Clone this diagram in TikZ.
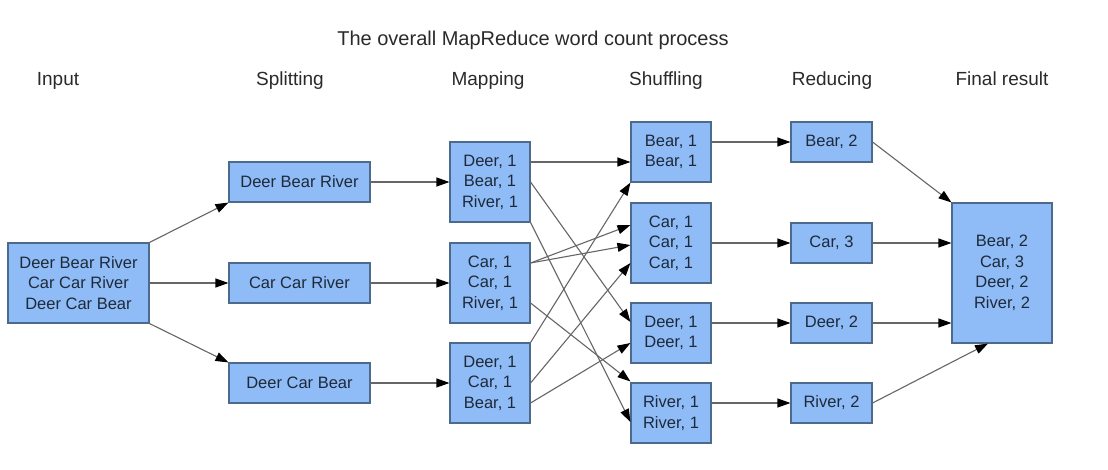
\documentclass[tikz,border=0pt]{standalone}
\usepackage{fontspec}
\setmainfont{Liberation Sans}
\usetikzlibrary{arrows.meta,calc}
\definecolor{boxfill}{HTML}{8FBCF7}
\definecolor{boxline}{HTML}{4C6A8C}
\definecolor{boxtext}{HTML}{1E2A3A}
\definecolor{linegray}{HTML}{666666}
\definecolor{headtext}{HTML}{2A2A2A}
\begin{document}
\begin{tikzpicture}[x=1pt,y=-1pt,
  box/.style={draw=boxline,fill=boxfill,line width=1.1pt,inner sep=0pt,
    text=boxtext,align=center,font=\fontsize{16.5}{20.5}\selectfont},
  conn/.style={draw=linegray,line width=1.1pt,
    -{Triangle[length=13pt,width=9pt,color=black]}},
  head/.style={anchor=base,text=headtext,font=\fontsize{19}{22}\selectfont},
  titlestyle/.style={anchor=base,text=headtext,font=\fontsize{20}{24}\selectfont}]
\useasboundingbox[fill=white] (0,0) rectangle (1108,469);

% titles
\node[titlestyle] (title) at (533,45) {The overall MapReduce word count process};
\node[head] (hin) at (58,85) {Input};
\node[head] (hsp) at (290,85) {Splitting};
\node[head] (hmap) at (488,85) {Mapping};
\node[head] (hsh) at (666,85) {Shuffling};
\node[head] (hred) at (832,85) {Reducing};
\node[head] (hfin) at (1002,85) {Final result};

% input
\node[box,minimum width=141pt,minimum height=80pt] (in) at (78.5,283)
  {Deer Bear River\\Car Car River\\Deer Car Bear};

% splitting
\node[box,minimum width=141pt,minimum height=40pt] (sp1) at (299.5,182) {Deer Bear River};
\node[box,minimum width=141pt,minimum height=40pt] (sp2) at (299.5,283) {Car Car River};
\node[box,minimum width=141pt,minimum height=40pt] (sp3) at (299.5,383) {Deer Car Bear};

% mapping
\node[box,minimum width=80pt,minimum height=80pt] (map1) at (490,182) {Deer, 1\\Bear, 1\\River, 1};
\node[box,minimum width=80pt,minimum height=80pt] (map2) at (490,283) {Car, 1\\Car, 1\\River, 1};
\node[box,minimum width=80pt,minimum height=80pt] (map3) at (490,383) {Deer, 1\\Car, 1\\Bear, 1};

% shuffling
\node[box,minimum width=80pt,minimum height=60pt] (sh1) at (671,152) {Bear, 1\\Bear, 1};
\node[box,minimum width=80pt,minimum height=80pt] (sh2) at (671,243) {Car, 1\\Car, 1\\Car, 1};
\node[box,minimum width=80pt,minimum height=60pt] (sh3) at (671,333) {Deer, 1\\Deer, 1};
\node[box,minimum width=80pt,minimum height=60pt] (sh4) at (671,413) {River, 1\\River, 1};

% reducing
\node[box,minimum width=81pt,minimum height=40pt] (r1) at (831.5,142) {Bear, 2};
\node[box,minimum width=81pt,minimum height=40pt] (r2) at (831.5,243) {Car, 3};
\node[box,minimum width=81pt,minimum height=40pt] (r3) at (831.5,323) {Deer, 2};
\node[box,minimum width=81pt,minimum height=40pt] (r4) at (831.5,403) {River, 2};

% final
\node[box,minimum width=100pt,minimum height=140pt] (fin) at (1002,273)
  {Bear, 2\\Car, 3\\Deer, 2\\River, 2};

% input -> splitting
\draw[conn] (in.north east) -- (sp1.south west);
\draw[conn] (in.east) -- (sp2.west);
\draw[conn] (in.south east) -- (sp3.north west);

% splitting -> mapping
\draw[conn] (sp1.east) -- (map1.west);
\draw[conn] (sp2.east) -- (map2.west);
\draw[conn] (sp3.east) -- (map3.west);

% mapping -> shuffling
\draw[conn] ([yshift=20pt]map1.east) -- ([yshift=-10pt]sh1.west);
\draw[conn] (map1.east) -- ([yshift=11pt]sh3.west);
\draw[conn] (map1.south east) -- ([yshift=-9pt]sh4.west);
\draw[conn] ([yshift=20pt]map2.east) -- ([yshift=18pt]sh2.west);
\draw[conn] ([yshift=20pt]map2.east) -- ([yshift=-2pt]sh2.west);
\draw[conn] ([yshift=-20pt]map2.east) -- ([yshift=1pt]sh4.north west);
\draw[conn] (map3.north east) -- (sh1.south west);
\draw[conn] (map3.east) -- ([yshift=-20pt]sh2.west);
\draw[conn] ([yshift=-20pt]map3.east) -- ([yshift=-10pt]sh3.west);

% shuffling -> reducing
\draw[conn] ([yshift=10pt]sh1.east) -- (r1.west);
\draw[conn] (sh2.east) -- (r2.west);
\draw[conn] ([yshift=10pt]sh3.east) -- (r3.west);
\draw[conn] ([yshift=10pt]sh4.east) -- (r4.west);

% reducing -> final
\draw[conn] (r1.east) -- (fin.north west);
\draw[conn] (r2.east) -- ([yshift=30pt]fin.west);
\draw[conn] (r3.east) -- ([yshift=-50pt]fin.west);
\draw[conn] (r4.east) -- ([xshift=-14pt]fin.south);
\end{tikzpicture}
\end{document}
